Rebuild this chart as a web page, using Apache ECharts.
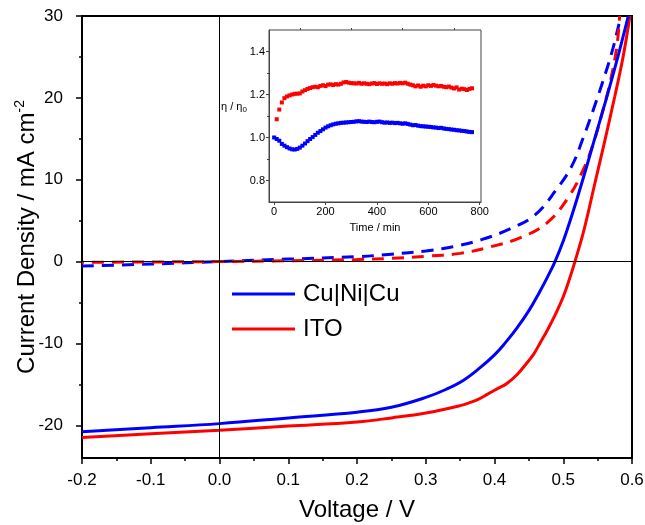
<!DOCTYPE html>
<html>
<head>
<meta charset="utf-8">
<script src="https://cdn.jsdelivr.net/npm/echarts@6/dist/echarts.min.js"></script>
<style>
  html, body { margin: 0; padding: 0; background: #fff; }
  #chart { width: 645px; height: 525px; }
</style>
</head>
<body>
<div id="chart"></div>
<script>
// J-V curves (V, mA cm-2)
const cuLightV = [-0.2, -0.1, 0, 0.1, 0.2, 0.25, 0.3, 0.33, 0.355, 0.38, 0.4, 0.415, 0.432, 0.45, 0.465, 0.477, 0.488, 0.5, 0.515, 0.527, 0.545, 0.563, 0.58, 0.5946]
const cuLightJ = [-20.8, -20.3, -19.8, -19.1, -18.4, -17.8, -16.6, -15.6, -14.5, -12.9, -11.4, -10.0, -8.2, -6.0, -3.8, -1.9, 0, 2.5, 6.3, 9.6, 14.8, 20.0, 25.2, 30]

const itoLightV = [-0.2, -0.1, 0, 0.1, 0.2, 0.25, 0.3, 0.35, 0.365, 0.377, 0.39, 0.405, 0.418, 0.433, 0.447, 0.457, 0.466, 0.478, 0.49, 0.5, 0.508, 0.517, 0.53, 0.545, 0.56, 0.575, 0.587, 0.597]
const itoLightJ = [-21.5, -21.05, -20.6, -20.1, -19.6, -19.1, -18.5, -17.6, -17.2, -16.8, -16.2, -15.5, -14.9, -13.8, -12.4, -11.3, -10.0, -8.2, -6.2, -4.3, -2.4, 0, 3.8, 9.2, 14.6, 20.2, 25.0, 30]

const cuDarkV = [-0.2, -0.1, 0, 0.1, 0.2, 0.25, 0.3, 0.325, 0.35, 0.38, 0.42, 0.459, 0.49, 0.512, 0.529, 0.544, 0.556, 0.5705, 0.5825, 0.584]
const cuDarkJ = [-0.55, -0.3, 0, 0.3, 0.6, 0.9, 1.3, 1.6, 2.0, 2.65, 3.9, 5.7, 8.8, 11.6, 15.1, 18.6, 21.6, 25.5, 29.5, 30]

const itoDarkV = [-0.2, -0.1, 0, 0.1, 0.2, 0.25, 0.3, 0.35, 0.394, 0.437, 0.476, 0.507, 0.529, 0.544, 0.558, 0.568, 0.578, 0.582]
const itoDarkJ = [-0.1, -0.05, 0, 0.1, 0.25, 0.4, 0.65, 1.0, 1.8, 2.9, 4.7, 7.8, 11.2, 14.5, 18.6, 21.8, 26.3, 30]

// inset: normalised efficiency vs time (min)
const cuTime = [0, 10, 20, 30, 40, 50, 60, 70, 80, 90, 100, 110, 120, 130, 140, 150, 160, 170, 180, 190, 200, 210, 220, 230, 240, 250, 260, 270, 280, 290, 300, 310, 320, 330, 340, 350, 360, 370, 380, 390, 400, 410, 420, 430, 440, 450, 460, 470, 480, 490, 500, 510, 520, 530, 540, 550, 560, 570, 580, 590, 600, 610, 620, 630, 640, 650, 660, 670, 680, 690, 700, 710, 720, 730, 740, 750, 760, 770]
const cuEta = [1.000, 0.993, 0.985, 0.970, 0.962, 0.955, 0.949, 0.945, 0.944, 0.947, 0.953, 0.962, 0.972, 0.983, 0.993, 1.002, 1.012, 1.022, 1.030, 1.038, 1.046, 1.052, 1.057, 1.061, 1.064, 1.066, 1.068, 1.069, 1.070, 1.071, 1.072, 1.073, 1.075, 1.076, 1.074, 1.073, 1.072, 1.074, 1.072, 1.071, 1.073, 1.074, 1.071, 1.069, 1.070, 1.068, 1.069, 1.067, 1.068, 1.066, 1.064, 1.066, 1.063, 1.060, 1.057, 1.058, 1.055, 1.053, 1.052, 1.051, 1.050, 1.049, 1.047, 1.046, 1.044, 1.045, 1.042, 1.040, 1.039, 1.037, 1.036, 1.034, 1.033, 1.031, 1.030, 1.028, 1.026, 1.025]

const itoTime = [10, 20, 30, 40, 50, 60, 70, 80, 90, 100, 110, 120, 130, 140, 150, 160, 170, 180, 190, 200, 210, 220, 230, 240, 250, 260, 270, 280, 290, 300, 310, 320, 330, 340, 350, 360, 370, 380, 390, 400, 410, 420, 430, 440, 450, 460, 470, 480, 490, 500, 510, 520, 530, 540, 550, 560, 570, 580, 590, 600, 610, 620, 630, 640, 650, 660, 670, 680, 690, 700, 710, 720, 730, 740, 750, 760, 770]
const itoEta = [1.085, 1.130, 1.163, 1.183, 1.191, 1.196, 1.200, 1.203, 1.204, 1.205, 1.214, 1.220, 1.226, 1.230, 1.234, 1.236, 1.234, 1.240, 1.243, 1.239, 1.246, 1.247, 1.244, 1.248, 1.246, 1.250, 1.256, 1.258, 1.255, 1.253, 1.252, 1.251, 1.254, 1.250, 1.252, 1.250, 1.248, 1.251, 1.253, 1.249, 1.252, 1.250, 1.251, 1.248, 1.252, 1.250, 1.253, 1.251, 1.254, 1.252, 1.255, 1.250, 1.246, 1.243, 1.238, 1.242, 1.236, 1.241, 1.238, 1.243, 1.240, 1.244, 1.241, 1.238, 1.240, 1.236, 1.234, 1.237, 1.232, 1.228, 1.233, 1.223, 1.227, 1.225, 1.221, 1.226, 1.229]

const mainYTicks = [-20, -10, 0, 10, 20, 30]
const mainYMinor = [-15, -5, 5, 15, 25]
const insetXTicks = [0, 200, 400, 600, 800]
const insetXMinor = [100, 300, 500, 700]
const insetYTicks = [0.8, 1.0, 1.2, 1.4]
const insetYMinor = [0.9, 1.1, 1.3]

const FONT = "'Liberation Sans', Arial, sans-serif"
const BLUE = '#0000ff'
const RED = '#ff0000'

function pairs(xs, ys) {
  return xs.map((x, i) => [x, ys[i]])
}

const chart = echarts.init(document.getElementById('chart'), null, { width: 645, height: 525 })

const tickOnlyAxis = {
  axisLine: { show: false, onZero: false },
  axisLabel: { show: false },
  splitLine: { show: false },
}

chart.setOption({
  animation: false,
  backgroundColor: '#fff',
  textStyle: { fontFamily: FONT },
  grid: [
    { left: 82, right: 13, top: 16, bottom: 67, outerBoundsMode: 'none', containLabel: false, show: true, borderColor: '#000', borderWidth: 2, backgroundColor: 'transparent' },
    { left: 269, top: 30, width: 212, height: 172, outerBoundsMode: 'none', containLabel: false, show: true, borderColor: '#444', borderWidth: 1, backgroundColor: '#fff' }
  ],
  legend: {
    left: 232,
    top: 282,
    padding: 0,
    orient: 'vertical',
    icon: 'rect',
    itemWidth: 63,
    itemHeight: 3,
    itemGap: 11,
    data: ['Cu|Ni|Cu', 'ITO'],
    textStyle: { fontSize: 24, color: '#000', fontFamily: FONT, padding: [0, 0, 0, 3] }
  },
  xAxis: [
    {
      type: 'value', gridIndex: 0, min: -0.2, max: 0.6, interval: 0.1,
      name: 'Voltage / V', nameLocation: 'middle', nameGap: 40, nameMoveOverlap: false,
      nameTextStyle: { fontSize: 24, color: '#000' },
      axisLine: { onZero: false, lineStyle: { color: '#000', width: 2 } },
      axisTick: { length: 6, lineStyle: { color: '#000', width: 1.5 } },
      minorTick: { show: true, splitNumber: 2, length: 3, lineStyle: { color: '#000', width: 1.5 } },
      axisLabel: { fontSize: 17, color: '#000', margin: 14, formatter: v => v.toFixed(1) },
      splitLine: { show: false }
    },
    {
      type: 'value', gridIndex: 1, min: -20, max: 805,
      name: 'Time / min', nameLocation: 'middle', nameGap: 20, nameMoveOverlap: false,
      nameTextStyle: { fontSize: 11, color: '#000' },
      axisLine: { onZero: false, lineStyle: { color: '#444', width: 1 } },
      axisTick: { customValues: insetXTicks, length: 3, lineStyle: { color: '#444' } },
      axisLabel: { customValues: insetXTicks, fontSize: 11, color: '#000', margin: 4 },
      splitLine: { show: false }
    },
    Object.assign({
      type: 'value', gridIndex: 1, min: -20, max: 805,
      axisTick: { customValues: insetXMinor, length: 2, lineStyle: { color: '#444' } }
    }, tickOnlyAxis)
  ],
  yAxis: [
    {
      type: 'value', gridIndex: 0, min: -24, max: 30,
      name: 'Current Density / mA cm{sup|-2}', nameLocation: 'middle', nameGap: 41, nameMoveOverlap: false,
      nameTextStyle: {
        fontSize: 24, color: '#000', lineHeight: 28,
        rich: { sup: { fontSize: 14, lineHeight: 14, verticalAlign: 'top', color: '#000' } }
      },
      axisLine: { onZero: false, lineStyle: { color: '#000', width: 2 } },
      axisTick: { customValues: mainYTicks, length: 6, lineStyle: { color: '#000', width: 1.5 } },
      axisLabel: { customValues: mainYTicks, fontSize: 17, color: '#000', margin: 19 },
      splitLine: { show: false }
    },
    Object.assign({
      type: 'value', gridIndex: 0, min: -24, max: 30, position: 'left',
      axisTick: { customValues: mainYMinor, length: 3, lineStyle: { color: '#000', width: 1.5 } }
    }, tickOnlyAxis),
    {
      type: 'value', gridIndex: 1, min: 0.7, max: 1.5,
      axisLine: { onZero: false, lineStyle: { color: '#444', width: 1 } },
      axisTick: { customValues: insetYTicks, length: 3, lineStyle: { color: '#444' } },
      axisLabel: { customValues: insetYTicks, fontSize: 11, color: '#000', margin: 4, formatter: v => v.toFixed(1) },
      splitLine: { show: false }
    },
    Object.assign({
      type: 'value', gridIndex: 1, min: 0.7, max: 1.5, position: 'left',
      axisTick: { customValues: insetYMinor, length: 2, lineStyle: { color: '#444' } }
    }, tickOnlyAxis)
  ],
  graphic: [
    {
      type: 'text', left: 221, top: 101, z: 100,
      style: {
        text: 'η / η{sub|0}', fontSize: 11, fontFamily: FONT, fill: '#000',
        rich: { sub: { fontSize: 8, verticalAlign: 'bottom', padding: [6, 0, 0, 0], fontFamily: FONT, fill: '#000' } }
      }
    }
  ],
  series: [
    {
      name: 'Cu|Ni|Cu dark', type: 'line', xAxisIndex: 0, yAxisIndex: 0,
      data: pairs(cuDarkV, cuDarkJ), symbol: 'none', smooth: 0.4,
      lineStyle: { color: BLUE, width: 3, type: [12, 8] }, itemStyle: { color: BLUE },
      markLine: {
        silent: true, symbol: ['none', 'none'], label: { show: false },
        lineStyle: { color: '#000', width: 1, type: 'solid' },
        data: [{ yAxis: 0 }, { xAxis: 0 }]
      }
    },
    {
      name: 'ITO dark', type: 'line', xAxisIndex: 0, yAxisIndex: 0,
      data: pairs(itoDarkV, itoDarkJ), symbol: 'none', smooth: 0.4,
      lineStyle: { color: RED, width: 3, type: [12, 8], dashOffset: 10 }, itemStyle: { color: RED }
    },
    {
      name: 'ITO', type: 'line', xAxisIndex: 0, yAxisIndex: 0,
      data: pairs(itoLightV, itoLightJ), symbol: 'none', smooth: 0.4,
      lineStyle: { color: RED, width: 3 }, itemStyle: { color: RED }
    },
    {
      name: 'Cu|Ni|Cu', type: 'line', xAxisIndex: 0, yAxisIndex: 0,
      data: pairs(cuLightV, cuLightJ), symbol: 'none', smooth: 0.4,
      lineStyle: { color: BLUE, width: 3 }, itemStyle: { color: BLUE }
    },
    {
      name: 'Cu|Ni|Cu inset', type: 'scatter', xAxisIndex: 1, yAxisIndex: 2,
      data: pairs(cuTime, cuEta), symbol: 'rect', symbolSize: 4,
      itemStyle: { color: BLUE, opacity: 1 }
    },
    {
      name: 'ITO inset', type: 'scatter', xAxisIndex: 1, yAxisIndex: 2,
      data: pairs(itoTime, itoEta), symbol: 'rect', symbolSize: 4,
      itemStyle: { color: RED, opacity: 1 }
    }
  ]
}, true)
</script>
</body>
</html>
